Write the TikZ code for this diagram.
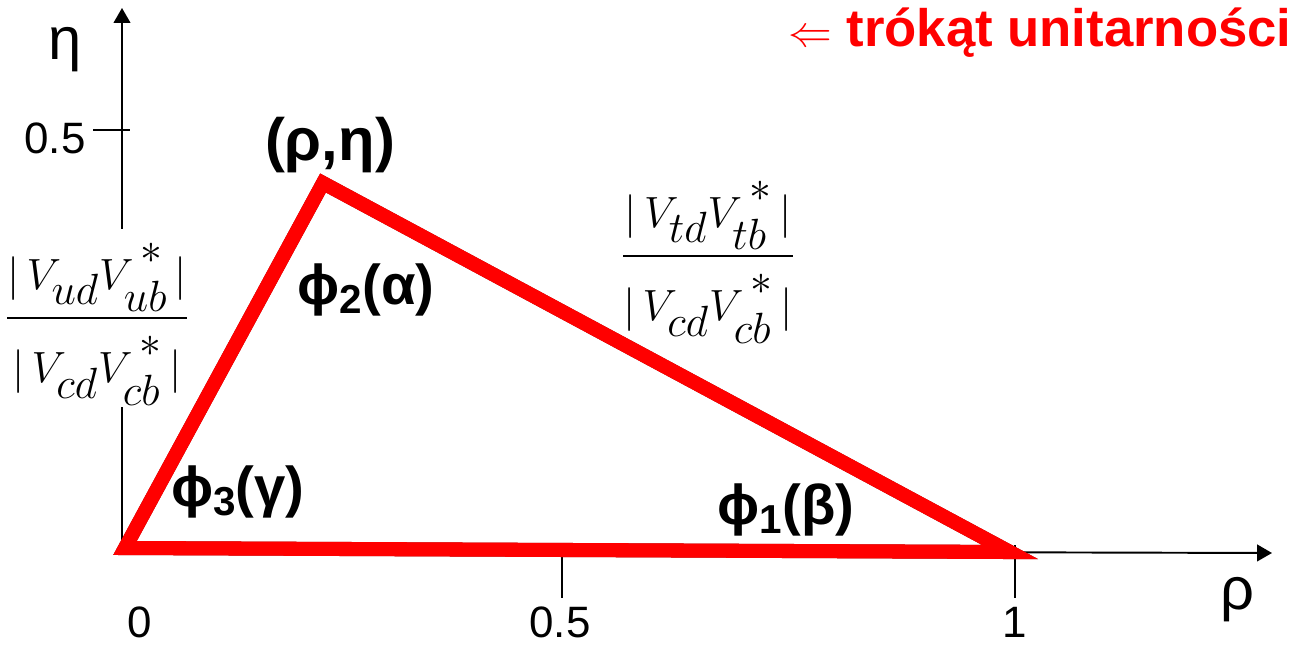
\documentclass[tikz,border=0pt]{standalone}
\usepackage{amsmath}
\usepackage{fontspec}
\setmainfont{Liberation Sans}
\usetikzlibrary{arrows.meta}
\usetikzlibrary{positioning}

\newcommand{\angsub}[1]{\raisebox{-0.3ex}{\fontsize{23}{23}\selectfont #1}}
\newcommand{\cstar}{^{\vphantom{(}\,*}}

\tikzset{
    axisline/.style={line width=1.1pt, -{Triangle[length=8.5pt,width=9.5pt]}},
    tickline/.style={line width=0.8pt},
    numlbl/.style={inner sep=0pt, font=\fontsize{25}{30}\selectfont},
    anglbl/.style={inner sep=0pt, font=\fontsize{32}{36}\selectfont\bfseries},
    ratio/.style={inner sep=1pt, fill=white, font=\fontsize{35}{42}\selectfont},
    triside/.style={line width=8pt, draw=red, line join=miter},
    trishadow/.style={line width=8pt, draw=red!55!black, line join=miter}
}

\begin{document}
\begin{tikzpicture}[x=0.02cm, y=-0.02cm]
            \useasboundingbox (0,0) rectangle (1298,645);

            % axes
            \coordinate (O) at (122,550);
            \coordinate (ytip) at (122,8);
            \coordinate (xtip) at (1272,553);
            \draw[axisline] (O) -- (ytip);
            \draw[axisline] (O) -- (xtip);

            % ticks
            \draw[tickline] (93,130) -- (130,130);
            \draw[tickline] (562,545) -- (562,598);
            \draw[tickline] (1015,545) -- (1015,598);

            \node[numlbl] (etaaxis) at (65,50) {\fontsize{34}{38}\selectfont η};
            \node[numlbl] (yhalf) at (55,138) {0.5};
            \node[numlbl] (xzero) at (140,622) {0};
            \node[numlbl] (xhalf) at (560,622) {0.5};
            \node[numlbl] (xone) at (1015,622) {1};
            \node[numlbl] (rhoaxis) at (1237,600) {\fontsize{34}{38}\selectfont ρ};

            % side ratios
            \node[ratio] (leftside) at (97,318)
                {$\dfrac{|\,V_{ud}V_{ub}\cstar\,|}{|\,V_{cd}V_{cb}\cstar\,|}$};
            \node[ratio] (rightside) at (708,256)
                {$\dfrac{|\,V_{td}V_{tb}\cstar\,|}{|\,V_{cd}V_{cb}\cstar\,|}$};

            % triangle
            \coordinate (A) at (125,548);
            \coordinate (B) at (323,183);
            \coordinate (C) at (1010,552);
            \draw[trishadow, shift={(2,3)}] (A) -- (B) -- (C) -- cycle;
            \draw[triside] (A) -- (B) -- (C) -- cycle;

            \node[anglbl] (apex) at (330,145) {\fontsize{34}{38}\selectfont(ρ,η)};
            \node[anglbl] (alpha) at (366,290) {ϕ\angsub{2}(α)};
            \node[anglbl] (gamma) at (238,492) {ϕ\angsub{3}(γ)};
            \node[anglbl] (beta) at (786,510) {ϕ\angsub{1}(β)};

            \node[anchor=east, inner sep=0pt, text=red,
                font=\fontsize{30}{34}\selectfont\bfseries] (title) at (1292,33)
                {{\fontsize{44}{44}\selectfont$\Leftarrow$} trókąt unitarności};
        \end{tikzpicture}
\end{document}
